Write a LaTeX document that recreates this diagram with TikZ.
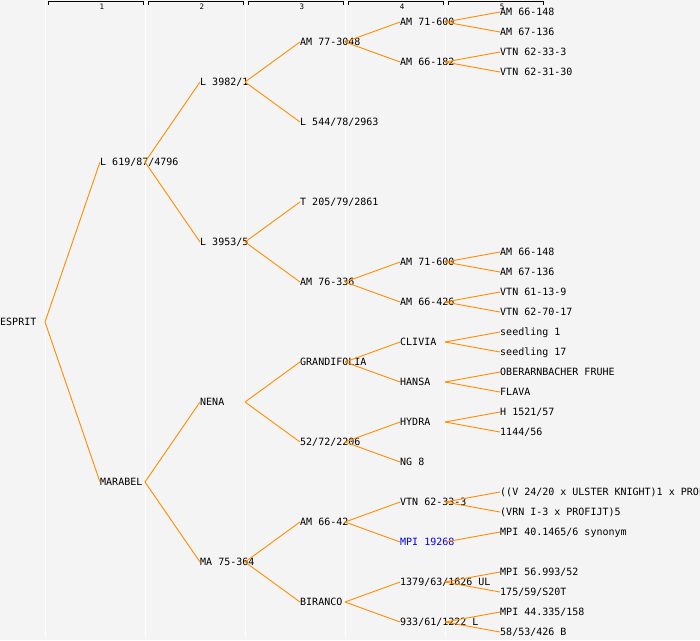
\documentclass[tikz,border=0pt]{standalone}
\usepackage{fontspec}
\setmonofont{DejaVu Sans Mono}
\usetikzlibrary{positioning}
\definecolor{pedigreebg}{HTML}{F4F4F4}
\definecolor{branchorange}{HTML}{FF8C00}
\definecolor{linkblue}{HTML}{0000FF}
\tikzset{x=1pt, y=1pt,
node distance=100pt, % One generation to the next
every node/.style={ % Plain text labels, west anchor at the start of the text
inner sep=0pt, anchor=west,
text height=7pt, text depth=0pt,
font=\ttfamily\fontsize{10}{12}\selectfont},
linked/.style={text=linkblue}, % Names printed as a link
every edge/.style={ % Branches of the tree
draw, branchorange, line width=0.9pt},
genhead/.style={line width=0.9pt, black}}

\begin{document}
\begin{tikzpicture}

    \clip (0,0) rectangle (700,-640);
    \fill[pedigreebg] (0,0) rectangle (700,-640);
    \foreach \g in {0,...,4}
        \draw[white, line width=1pt] (45+100*\g,0) -- (45+100*\g,-637);
    \foreach \g in {1,...,5} {
        \draw[genhead] (100*\g-52,-4.5) -- (100*\g-52,-1.5) -- (100*\g+43,-1.5) -- (100*\g+43,-4.5);
        \node[font=\ttfamily\fontsize{7.5}{8}\selectfont, text height=5pt, anchor=center] (gen\g) at (100*\g+2,-7) {\g};
    }

    \node (esprit) at (0,-322) {ESPRIT};

    \node[right=of esprit.west, yshift=160pt] (l619) {L 619/87/4796};
    \node[right=of esprit.west, yshift=-160pt] (marabel) {MARABEL};

    \node[right=of l619.west, yshift=80pt] (l3982) {L 3982/1};
    \node[right=of l619.west, yshift=-80pt] (l3953) {L 3953/5};
    \node[right=of marabel.west, yshift=80pt] (nena) {NENA};
    \node[right=of marabel.west, yshift=-80pt] (ma75) {MA 75-364};

    \node[right=of l3982.west, yshift=40pt] (am77) {AM 77-3048};
    \node[right=of l3982.west, yshift=-40pt] (l544) {L 544/78/2963};
    \node[right=of l3953.west, yshift=40pt] (t205) {T 205/79/2861};
    \node[right=of l3953.west, yshift=-40pt] (am76) {AM 76-336};
    \node[right=of nena.west, yshift=40pt] (grandifolia) {GRANDIFOLIA};
    \node[right=of nena.west, yshift=-40pt] (n5272) {52/72/2206};
    \node[right=of ma75.west, yshift=40pt] (am6642) {AM 66-42};
    \node[right=of ma75.west, yshift=-40pt] (biranco) {BIRANCO};

    \node[right=of am77.west, yshift=20pt] (am71a) {AM 71-600};
    \node[right=of am77.west, yshift=-20pt] (am66182) {AM 66-182};
    \node[right=of am76.west, yshift=20pt] (am71b) {AM 71-600};
    \node[right=of am76.west, yshift=-20pt] (am66426) {AM 66-426};
    \node[right=of grandifolia.west, yshift=20pt] (clivia) {CLIVIA};
    \node[right=of grandifolia.west, yshift=-20pt] (hansa) {HANSA};
    \node[right=of n5272.west, yshift=20pt] (hydra) {HYDRA};
    \node[right=of n5272.west, yshift=-20pt] (ng8) {NG 8};
    \node[right=of am6642.west, yshift=20pt] (vtn6233b) {VTN 62-33-3};
    \node[right=of am6642.west, yshift=-20pt, linked] (mpi19268) {MPI 19268};
    \node[right=of biranco.west, yshift=20pt] (n1379) {1379/63/1626 UL};
    \node[right=of biranco.west, yshift=-20pt] (n933) {933/61/1222 L};

    \node[right=of am71a.west, yshift=10pt] (am66148a) {AM 66-148};
    \node[right=of am71a.west, yshift=-10pt] (am67136a) {AM 67-136};
    \node[right=of am66182.west, yshift=10pt] (vtn6233a) {VTN 62-33-3};
    \node[right=of am66182.west, yshift=-10pt] (vtn6231) {VTN 62-31-30};
    \node[right=of am71b.west, yshift=10pt] (am66148b) {AM 66-148};
    \node[right=of am71b.west, yshift=-10pt] (am67136b) {AM 67-136};
    \node[right=of am66426.west, yshift=10pt] (vtn6113) {VTN 61-13-9};
    \node[right=of am66426.west, yshift=-10pt] (vtn6270) {VTN 62-70-17};
    \node[right=of clivia.west, yshift=10pt] (seed1) {seedling 1};
    \node[right=of clivia.west, yshift=-10pt] (seed17) {seedling 17};
    \node[right=of hansa.west, yshift=10pt] (oberarn) {OBERARNBACHER FRUHE};
    \node[right=of hansa.west, yshift=-10pt] (flava) {FLAVA};
    \node[right=of hydra.west, yshift=10pt] (h1521) {H 1521/57};
    \node[right=of hydra.west, yshift=-10pt] (n1144) {1144/56};
    \node[right=of vtn6233b.west, yshift=10pt] (ulster) {((V 24/20 x ULSTER KNIGHT)1 x PROF};
    \node[right=of vtn6233b.west, yshift=-10pt] (vrn) {(VRN I-3 x PROFIJT)5};
    \node[right=of mpi19268.west, yshift=10pt] (mpi40) {MPI 40.1465/6 synonym};
    \node[right=of n1379.west, yshift=10pt] (mpi56) {MPI 56.993/52};
    \node[right=of n1379.west, yshift=-10pt] (n175) {175/59/S20T};
    \node[right=of n933.west, yshift=10pt] (mpi44) {MPI 44.335/158};
    \node[right=of n933.west, yshift=-10pt] (n5853) {58/53/426 B};


    \draw ([xshift=45pt]esprit.west) edge (l619.west) edge (marabel.west);
    \draw ([xshift=45pt]l619.west) edge (l3982.west) edge (l3953.west);
    \draw ([xshift=45pt]marabel.west) edge (nena.west) edge (ma75.west);
    \draw ([xshift=45pt]l3982.west) edge (am77.west) edge (l544.west);
    \draw ([xshift=45pt]l3953.west) edge (t205.west) edge (am76.west);
    \draw ([xshift=45pt]nena.west) edge (grandifolia.west) edge (n5272.west);
    \draw ([xshift=45pt]ma75.west) edge (am6642.west) edge (biranco.west);
    \draw ([xshift=45pt]am77.west) edge (am71a.west) edge (am66182.west);
    \draw ([xshift=45pt]am76.west) edge (am71b.west) edge (am66426.west);
    \draw ([xshift=45pt]grandifolia.west) edge (clivia.west) edge (hansa.west);
    \draw ([xshift=45pt]n5272.west) edge (hydra.west) edge (ng8.west);
    \draw ([xshift=45pt]am6642.west) edge (vtn6233b.west) edge (mpi19268.west);
    \draw ([xshift=45pt]biranco.west) edge (n1379.west) edge (n933.west);
    \draw ([xshift=45pt]am71a.west) edge (am66148a.west) edge (am67136a.west);
    \draw ([xshift=45pt]am66182.west) edge (vtn6233a.west) edge (vtn6231.west);
    \draw ([xshift=45pt]am71b.west) edge (am66148b.west) edge (am67136b.west);
    \draw ([xshift=45pt]am66426.west) edge (vtn6113.west) edge (vtn6270.west);
    \draw ([xshift=45pt]clivia.west) edge (seed1.west) edge (seed17.west);
    \draw ([xshift=45pt]hansa.west) edge (oberarn.west) edge (flava.west);
    \draw ([xshift=45pt]hydra.west) edge (h1521.west) edge (n1144.west);
    \draw ([xshift=45pt]vtn6233b.west) edge (ulster.west) edge (vrn.west);
    \draw ([xshift=45pt]mpi19268.west) edge (mpi40.west);
    \draw ([xshift=45pt]n1379.west) edge (mpi56.west) edge (n175.west);
    \draw ([xshift=45pt]n933.west) edge (mpi44.west) edge (n5853.west);

\end{tikzpicture}
\end{document}
